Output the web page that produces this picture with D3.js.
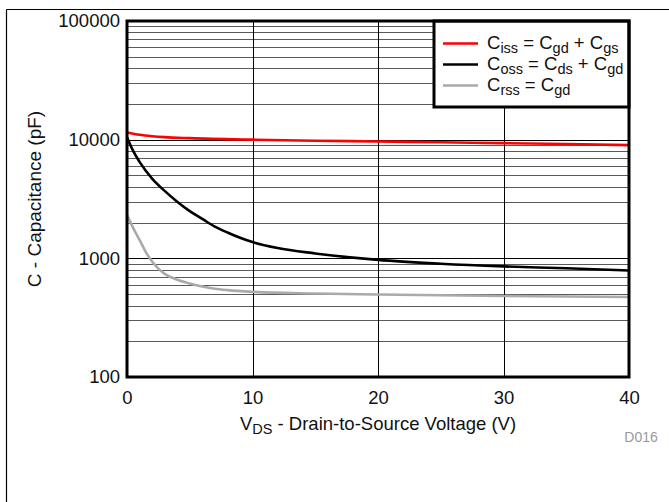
<!DOCTYPE html>
<html><head><meta charset="utf-8">
<script src="https://cdn.jsdelivr.net/npm/d3@7"></script>
<style>
body{margin:0;background:#fff}
svg{display:block}
text{font-family:"Liberation Sans",Arial,Helvetica,sans-serif}
</style>
</head><body>
<script>
// ---- data ----
const vdsCiss = [0,1,2,3,5,10,15,20,25,30,35,40];
const ciss    = [11500,11000,10700,10500,10300,10000,9800,9650,9500,9350,9200,9000];
const vdsCoss = [0,0.5,1,2,3,4,5,6,7,8,10,12,15,20,25,30,35,40];
const coss    = [10500,8000,6500,4700,3700,3000,2500,2150,1850,1650,1370,1220,1100,970,900,855,825,790];
const vdsCrss = [0,0.5,1,1.5,2,2.5,3,4,5,6,7,8,10,15,20,30,40];
const crss    = [2320,1800,1430,1130,940,820,740,660,615,580,555,540,522,505,495,482,472];
const xTicks = [0,10,20,30,40];
const yTicks = [100,1000,10000,100000];
const yTickLabels = ["100","1000","10000","100000"];
const seriesNames = [
  {main:"C", sub:"iss", rest:[" = C",{s:"gd"}," + C",{s:"gs"}]},
  {main:"C", sub:"oss", rest:[" = C",{s:"ds"}," + C",{s:"gd"}]},
  {main:"C", sub:"rss", rest:[" = C",{s:"gd"}]}
];
const seriesColors = ["#ff0000","#000000","#aaaaaa"];

// ---- layout ----
const W = 669, H = 502;
const L = 127, R = 629, T = 21, B = 377;
const FS = 18.5, SFS = 14.5, TXT = "#111";

const svg = d3.select("body").append("svg").attr("width", W).attr("height", H);

// outer frame lines
svg.append("line").attr("x1",6.5).attr("x2",W).attr("y1",9.5).attr("y2",9.5).attr("stroke","#000").attr("stroke-width",1.2);
svg.append("line").attr("x1",6.5).attr("x2",6.5).attr("y1",9.5).attr("y2",H).attr("stroke","#000").attr("stroke-width",1.2);

const x = d3.scaleLinear().domain([0,40]).range([L,R]);
const y = d3.scaleLog().domain([100,100000]).range([B,T]);

// gridlines
const minor = [];
[100,1000,10000].forEach(d => { for (let k=2;k<=9;k++) minor.push(d*k); });
const g = svg.append("g");
g.selectAll("line.minor").data(minor).enter().append("line")
  .attr("x1",L).attr("x2",R).attr("y1",d=>Math.round(y(d))+0.5).attr("y2",d=>Math.round(y(d))+0.5)
  .attr("stroke","#5a5a5a").attr("stroke-width",1);
g.selectAll("line.major").data(yTicks).enter().append("line")
  .attr("x1",L).attr("x2",R).attr("y1",d=>Math.round(y(d))+0.5).attr("y2",d=>Math.round(y(d))+0.5)
  .attr("stroke","#000").attr("stroke-width",1);
g.selectAll("line.vx").data(xTicks).enter().append("line")
  .attr("x1",d=>Math.round(x(d))+0.5).attr("x2",d=>Math.round(x(d))+0.5).attr("y1",T).attr("y2",B)
  .attr("stroke","#000").attr("stroke-width",1);

// curves
const line = d3.line().x(d=>x(d[0])).y(d=>y(d[1])).curve(d3.curveMonotoneX);
const series = [
  d3.zip(vdsCiss, ciss),
  d3.zip(vdsCoss, coss),
  d3.zip(vdsCrss, crss)
];
[2,1,0].forEach(i => {
  svg.append("path").datum(series[i]).attr("d", line)
    .attr("fill","none").attr("stroke",seriesColors[i]).attr("stroke-width",2.6)
    .attr("stroke-linejoin","round");
});

// legend
const lg = svg.append("g");
lg.append("rect").attr("x",434).attr("y",T).attr("width",R-434).attr("height",86)
  .attr("fill","#fff").attr("stroke","#000").attr("stroke-width",3);
const rowY = [43.5, 64.5, 85.5];
seriesNames.forEach((n,i) => {
  lg.append("line").attr("x1",443).attr("x2",478).attr("y1",rowY[i]).attr("y2",rowY[i])
    .attr("stroke",seriesColors[i]).attr("stroke-width",2.6);
  const t = lg.append("text").attr("x",487).attr("y",rowY[i]+5).attr("font-size",FS).attr("fill",TXT);
  t.append("tspan").text(n.main);
  t.append("tspan").attr("font-size",SFS).attr("dy",4).text(n.sub);
  let lowered = true;
  n.rest.forEach(p => {
    if (typeof p === "string") {
      t.append("tspan").attr("font-size",FS).attr("dy", lowered ? -4 : 0).text(p);
      lowered = false;
    } else {
      t.append("tspan").attr("font-size",SFS).attr("dy", lowered ? 0 : 4).text(p.s);
      lowered = true;
    }
  });
});

// plot border
svg.append("rect").attr("x",L).attr("y",T).attr("width",R-L).attr("height",B-T)
  .attr("fill","none").attr("stroke","#000").attr("stroke-width",3);

// axes tick labels
const xAxis = d3.axisBottom(x).tickValues(xTicks).tickSize(0).tickPadding(14).tickFormat(d3.format("d"));
const xa = svg.append("g").attr("transform",`translate(0,${B})`).call(xAxis);
xa.select(".domain").remove();
xa.selectAll("text").attr("font-size",FS).attr("fill",TXT).attr("font-family","Liberation Sans, Arial, sans-serif");

const yAxis = d3.axisLeft(y).tickValues(yTicks).tickSize(0).tickPadding(7).tickFormat((d,i)=>yTickLabels[i]);
const ya = svg.append("g").attr("transform",`translate(${L},0)`).call(yAxis);
ya.select(".domain").remove();
ya.selectAll("text").attr("font-size",FS).attr("fill",TXT).attr("font-family","Liberation Sans, Arial, sans-serif");

// axis titles
const xt = svg.append("text").attr("x",(L+R)/2).attr("y",430).attr("text-anchor","middle").attr("font-size",FS).attr("fill",TXT);
xt.append("tspan").text("V");
xt.append("tspan").attr("font-size",SFS).attr("dy",4).text("DS");
xt.append("tspan").attr("dy",-4).text(" - Drain-to-Source Voltage (V)");

svg.append("text").attr("transform",`translate(41,${(T+B)/2}) rotate(-90)`)
  .attr("text-anchor","middle").attr("font-size",19).attr("fill",TXT)
  .text("C - Capacitance (pF)");

svg.append("text").attr("x",641).attr("y",442).attr("text-anchor","middle")
  .attr("font-size",14).attr("fill","#999").text("D016");
</script>
</body></html>
